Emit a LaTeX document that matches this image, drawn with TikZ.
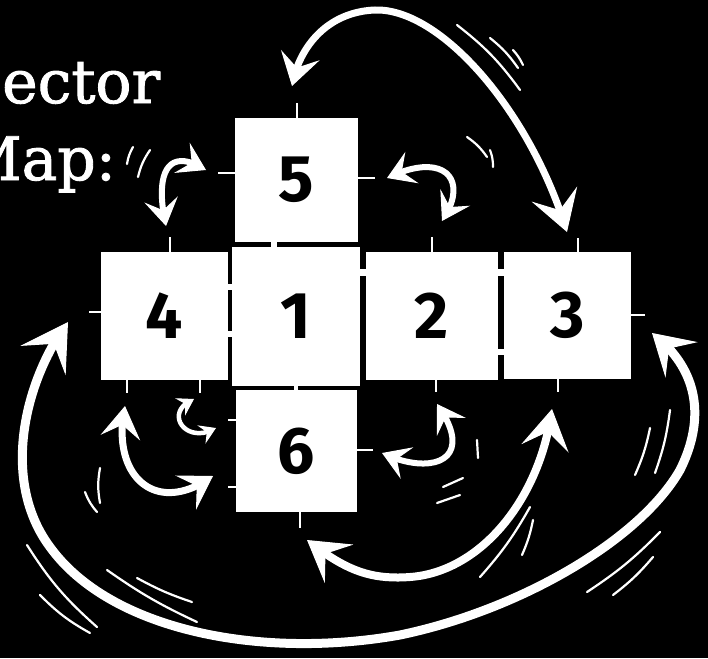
\documentclass[tikz,border=0pt]{standalone}
\usepackage{fontspec}
\newfontfamily\digfont{Fira Sans}
\newfontfamily\titlefont{DejaVu Serif}[FakeBold=1.5]
\usetikzlibrary{arrows.meta,bending}
\tikzset{
  BigTip/.tip={Stealth[length=46pt,width=54pt,inset=20pt,line width=1pt]},
  LargeTip/.tip={Stealth[length=40pt,width=48pt,inset=17pt,line width=1pt]},
  MidTip/.tip={Stealth[length=32pt,width=40pt,inset=13pt,line width=1pt]},
  SmallTip/.tip={Stealth[length=27pt,width=34pt,inset=11pt,line width=1pt]},
  TinyTip/.tip={Stealth[length=16pt,width=20pt,inset=6pt,line width=1pt]},
}
\begin{document}
\begin{tikzpicture}[x=1pt,y=-1pt,
  sq/.style={fill=white, inner sep=0pt, outer sep=0pt, text=black,
    font=\digfont\bfseries\fontsize{66}{66}\selectfont},
  tickline/.style={white, line width=2.6pt},
  bridge/.style={fill=white},
  shaft/.style={white, line cap=round, line join=round},
  motion/.style={white, line width=2.2pt, line cap=round},
  title/.style={white, inner sep=0pt, anchor=base west,
    font=\titlefont\fontsize{60}{60}\selectfont}]
\fill[black] (0,0) rectangle (708,658);
\clip (0,0) rectangle (708,658);
\useasboundingbox (0,0) rectangle (708,658);

% title (cut off at the left edge, as in the reference)
\node[title] (t1) at (2,103) {ector};
\node[title] (t2) at (-40,180) {Map:};

% squares
\node[sq, minimum width=127pt, minimum height=128pt] (n4) at (164.5,316) {4};
\node[sq, minimum width=128pt, minimum height=139pt] (n1) at (296,316.5) {1};
\node[sq, minimum width=132pt, minimum height=128pt] (n2) at (432,316) {2};
\node[sq, minimum width=127pt, minimum height=127pt] (n3) at (567.5,315.5) {3};
\node[sq, minimum width=123pt, minimum height=124pt] (n5) at (296.5,180) {5};
\node[sq, minimum width=121pt, minimum height=122pt] (n6) at (296.5,451) {6};

% bridges across the gaps
\fill[bridge] (226,284) rectangle (234,290);
\fill[bridge] (226,331) rectangle (234,337);
\fill[bridge] (358,269) rectangle (368,276);
\fill[bridge] (496,269) rectangle (506,276);
\fill[bridge] (496,349) rectangle (506,355);
\fill[bridge] (271,240) rectangle (277,249);
\fill[bridge] (294,385) rectangle (298,391);

% ticks
\draw[tickline] (297,118) -- (297,103);
\draw[tickline] (235,173) -- (218,173);
\draw[tickline] (358,178) -- (375,178);
\draw[tickline] (170,252) -- (170,237);
\draw[tickline] (432,252) -- (432,237);
\draw[tickline] (578,252) -- (578,238);
\draw[tickline] (101,312) -- (89,312);
\draw[tickline] (631,315) -- (645,315);
\draw[tickline] (127,380) -- (127,393);
\draw[tickline] (200,380) -- (200,393);
\draw[tickline] (436,380) -- (436,392);
\draw[tickline] (558,379) -- (558,392);
\draw[tickline] (236,420) -- (228,420);
\draw[tickline] (236,487) -- (228,487);
\draw[tickline] (357,450) -- (373,450);
\draw[tickline] (300,512) -- (300,528);

% arrow end points
\coordinate (a1) at (292,86);  \coordinate (a2) at (567,232);
\coordinate (b1) at (166,226); \coordinate (b2) at (206,170);
\coordinate (c1) at (387,178); \coordinate (c2) at (442,221);
\coordinate (d1) at (125,406); \coordinate (d2) at (213,476);
\coordinate (e1) at (194,399); \coordinate (e2) at (216,428);
\coordinate (f1) at (382,453); \coordinate (f2) at (437,404);
\coordinate (g1) at (307,540); \coordinate (g2) at (552,409);
\coordinate (h1) at (68,322);  \coordinate (h2) at (652,333);

% arrows
\draw[shaft, line width=7pt, MidTip-LargeTip]
  (a1) .. controls (298,50) and (325,12) .. (375,10)
       .. controls (440,8) and (530,110) .. (a2);
\draw[shaft, line width=6pt, SmallTip-SmallTip]
  (b1) .. controls (154,172) and (168,146) .. (b2);
\draw[shaft, line width=6pt, SmallTip-SmallTip]
  (c1) .. controls (445,150) and (470,180) .. (c2);
\draw[shaft, line width=7pt, MidTip-MidTip]
  (d1) .. controls (110,475) and (155,518) .. (d2);
\draw[shaft, line width=4.5pt, TinyTip-TinyTip]
  (e1) .. controls (162,412) and (186,446) .. (e2);
\draw[shaft, line width=6pt, SmallTip-SmallTip]
  (f1) .. controls (430,476) and (478,462) .. (f2);
\draw[shaft, line width=8pt, LargeTip-LargeTip]
  (g1) .. controls (345,570) and (370,580) .. (410,577)
       .. controls (480,572) and (540,500) .. (g2);
\draw[shaft, line width=9pt, BigTip-LargeTip]
  (h1) .. controls (25,380) and (0,480) .. (50,547)
       .. controls (110,630) and (260,660) .. (400,635)
       .. controls (520,610) and (640,540) .. (680,470)
       .. controls (705,420) and (700,370) .. (h2);

% motion strokes
\draw[motion] (457,25) to[bend left=8] (520,90);
\draw[motion] (490,38) to[bend left=8] (518,68);
\draw[motion] (513,50) to[bend left=8] (523,65);
\draw[motion] (133,147) to[bend right=10] (127,164);
\draw[motion] (150,150) to[bend right=10] (138,177);
\draw[motion] (467,137) to[bend left=10] (487,157);
\draw[motion] (490,150) to[bend left=10] (493,167);
\draw[motion] (100,468) to[bend right=10] (100,503);
\draw[motion] (85,492) to[bend right=10] (97,512);
\draw[motion] (477,440) -- (478,458);
\draw[motion] (443,487) -- (463,478);
\draw[motion] (437,503) -- (460,495);
\draw[motion] (530,507) to[bend left=6] (480,577);
\draw[motion] (533,520) to[bend left=6] (522,555);
\draw[motion] (27,545) to[bend right=8] (97,627);
\draw[motion] (40,595) to[bend right=8] (90,633);
\draw[motion] (107,570) to[bend right=5] (197,622);
\draw[motion] (137,578) to[bend right=5] (192,602);
\draw[motion] (650,428) to[bend left=6] (635,475);
\draw[motion] (670,410) to[bend left=6] (655,473);
\draw[motion] (660,532) to[bend left=6] (587,592);
\draw[motion] (653,557) to[bend left=6] (613,595);
\end{tikzpicture}
\end{document}
